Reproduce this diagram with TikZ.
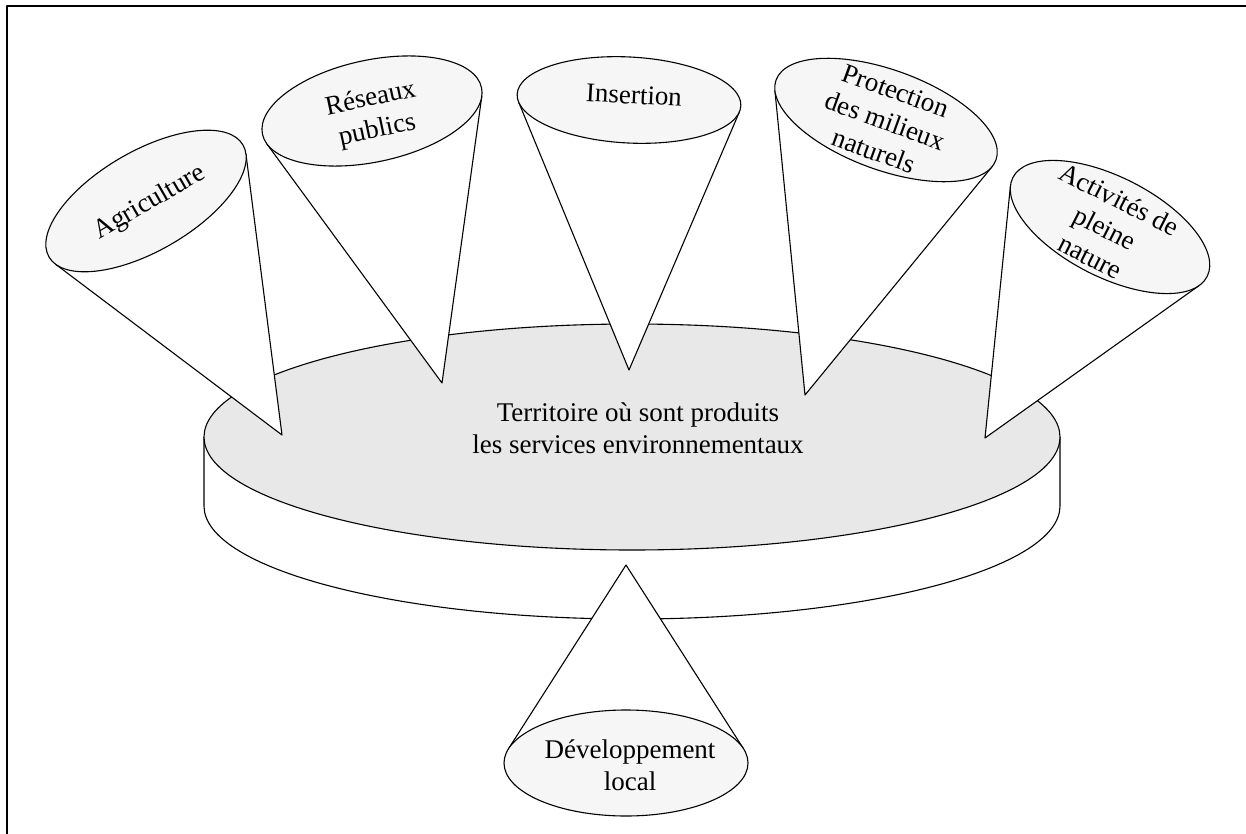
\documentclass[tikz,border=0pt]{standalone}
\usepackage{fontspec}
\setmainfont{Liberation Serif}
\definecolor{topgray}{HTML}{E8E8E8}
\definecolor{capgray}{HTML}{F6F6F6}
\tikzset{
  disktop/.style={fill=topgray},
  capfill/.style={fill=capgray},
  every node/.style={font=\fontsize{27}{32}\selectfont, align=center}
}
\begin{document}
\begin{tikzpicture}[x=1pt, y=-1pt, line width=1.1pt, line join=round]
\useasboundingbox (0,0) rectangle (1246,834);
\draw[line width=1.5pt] (7,834) -- (7,6) -- (1246,6);

% the disk
\draw[fill=white] (204,437) -- (204,506)
      arc[start angle=180, end angle=0, x radius=428, y radius=113] -- (1060,437);
\draw[disktop] (632,437) ellipse[x radius=428, y radius=113];
\node (terr) at (638,428) {Territoire où sont produits\\les services environnementaux};

% cones: name/centre/radii/angle/apex/text position/text
\foreach \nm/\cx/\cy/\a/\b/\th/\px/\py/\tx/\ty/\txt in {
    agri/146/201/112/50/30/282/435/150/203/Agriculture,
    res/372/111/112/51/12/442/383/374/115/{Réseaux\\publics},
    ins/629/100/112/43/-3/629/370/634/95/Insertion,
    prot/886/120/117/50/-20/805/395/885/121/{Protection\\des milieux\\naturels},
    act/1110/227/109/50/-27/985/438/1105/228/{Activités de\\pleine\\nature},
    dev/626/763/122/53/0/626/565/630/765/{Développement\\local}} {
  \pgfmathsetmacro\ux{cos(\th)}
  \pgfmathsetmacro\uy{-sin(\th)}
  \pgfmathsetmacro\vx{sin(\th)}
  \pgfmathsetmacro\vy{cos(\th)}
  \pgfmathsetmacro\pp{((\px-\cx)*\ux+(\py-\cy)*\uy)/\a}
  \pgfmathsetmacro\qq{((\px-\cx)*\vx+(\py-\cy)*\vy)/\b}
  \pgfmathsetmacro\ang{atan2(\qq,\pp)}
  \pgfmathsetmacro\dlt{acos(1/sqrt(\pp*\pp+\qq*\qq))}
  \coordinate (\nm-c) at (\cx,\cy);
  \coordinate (\nm-apex) at (\px,\py);
  \coordinate (\nm-l) at ({\cx+\a*cos(\ang+\dlt)*\ux+\b*sin(\ang+\dlt)*\vx},
                         {\cy+\a*cos(\ang+\dlt)*\uy+\b*sin(\ang+\dlt)*\vy});
  \coordinate (\nm-r) at ({\cx+\a*cos(\ang-\dlt)*\ux+\b*sin(\ang-\dlt)*\vx},
                         {\cy+\a*cos(\ang-\dlt)*\uy+\b*sin(\ang-\dlt)*\vy});
  \draw[fill=white] (\nm-l) -- (\nm-apex) -- (\nm-r);
  \draw[capfill, rotate around={\th:(\nm-c)}] (\nm-c) ellipse[x radius=\a, y radius=\b];
  \node[rotate=\th] (\nm) at (\tx,\ty) {\txt};
}
\end{tikzpicture}
\end{document}
